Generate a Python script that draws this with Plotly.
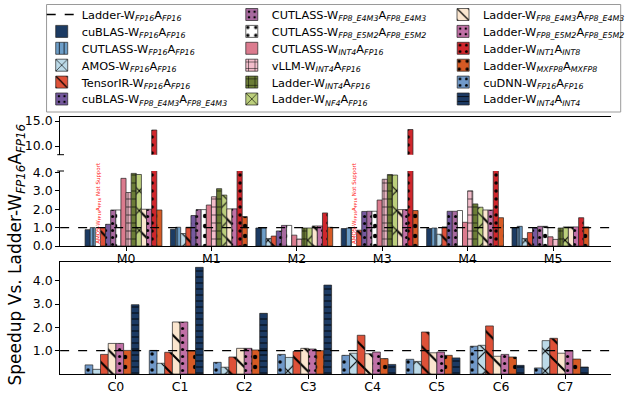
import plotly.graph_objects as go

# ---------------- data ----------------
models = ["M0", "M1", "M2", "M3", "M4", "M5"]
convs = ["C0", "C1", "C2", "C3", "C4", "C5", "C6", "C7"]

cublas_fp16 = [0.89, 0.91, 0.98, 0.95, 0.95, 1.00]
cutlass_fp16 = [1.00, 1.02, 0.98, 0.98, 0.98, 1.07]
amos_m = [None, 0.68, 0.41, None, 0.64, 0.41]
tensorir_m = [1.00, 1.02, 0.54, 0.86, 1.04, 0.73]
cublas_fp8 = [1.18, 1.66, 0.82, 1.88, 1.89, 0.98]
cutlass_e4m3 = [1.96, 1.98, 1.12, 1.89, 1.89, 1.07]
cutlass_e5m2 = [1.96, 1.98, 1.12, 1.89, 1.93, 1.07]
cutlass_int4 = [3.68, 2.23, 0.59, 2.50, 1.29, 0.50]
vllm_int4 = [2.91, 2.68, 0.38, 3.63, 3.00, 0.36]
ladder_int4 = [3.95, 3.12, 0.98, 3.89, 2.29, 0.98]
ladder_nf4 = [3.89, 2.77, 0.98, 3.86, 2.11, 1.04]
ladder_e4m3_m = [2.00, 2.02, 1.09, 1.98, 1.96, 1.04]
ladder_e5m2_m = [2.00, 2.02, 1.09, 1.98, 1.96, 1.04]
ladder_int1 = [13.2, 5.5, 1.80, 13.3, 5.5, 1.54]
ladder_mxfp8_m = [1.96, 1.60, 1.02, 1.93, 1.54, 1.04]

cudnn_c = [0.39, 1.01, 0.50, 0.84, 0.80, 0.63, 1.19, 0.26]
amos_c = [0.20, 0.46, 0.29, 0.71, 0.89, 0.54, 1.23, 1.43]
tensorir_c = [0.84, 0.93, 0.73, 0.97, 1.66, 1.80, 2.06, 1.53]
ladder_e4m3_c = [1.31, 2.23, 1.10, 1.10, 0.87, 0.91, 0.76, 0.89]
ladder_e5m2_c = [1.31, 2.23, 1.10, 1.07, 0.94, 0.94, 0.84, 0.99]
ladder_mxfp8_c = [1.01, 0.99, 1.03, 1.00, 0.66, 0.80, 0.73, 0.64]
ladder_int4int4_c = [2.97, 4.57, 2.60, 3.81, 0.41, 0.69, 0.37, 0.30]

baseline = 1.0


def lab(sys, w, a):
    return f"{sys}-W<sub><i>{w}</i></sub>A<sub><i>{a}</i></sub>"


# style per series: (label, color, pattern shape, pattern size)
S = {
    "cublas16": (lab("cuBLAS", "FP16", "FP16"), "#1c3b63", "", 8),
    "cutlass16": (lab("CUTLASS", "FP16", "FP16"), "#6d9ec8", "|", 6),
    "amos": (lab("AMOS", "FP16", "FP16"), "#bcdae8", "x", 14),
    "tir": (lab("TensorIR", "FP16", "FP16"), "#de5138", "\\", 14),
    "cublas8": (lab("cuBLAS", "FP8_E4M3", "FP8_E4M3"), "#75599e", ".", 7),
    "cut_e4m3": (lab("CUTLASS", "FP8_E4M3", "FP8_E4M3"), "#a86a9f", ".", 7),
    "cut_e5m2": (lab("CUTLASS", "FP8_E5M2", "FP8_E5M2"), "#ffffff", ".", 10),
    "cut_int4": (lab("CUTLASS", "INT4", "FP16"), "#db7b8e", "", 8),
    "vllm": (lab("vLLM", "INT4", "FP16"), "#f3bdcb", "+", 8),
    "l_int4": (lab("Ladder", "INT4", "FP16"), "#6b7c36", "+", 8),
    "l_nf4": (lab("Ladder", "NF4", "FP16"), "#bccf7c", "x", 14),
    "l_e4m3": (lab("Ladder", "FP8_E4M3", "FP8_E4M3"), "#fbe6cf", "\\", 14),
    "l_e5m2": (lab("Ladder", "FP8_E5M2", "FP8_E5M2"), "#c070a6", ".", 7),
    "l_int1": (lab("Ladder", "INT1", "INT8"), "#d0262c", ".", 8),
    "l_mxfp8": (lab("Ladder", "MXFP8", "MXFP8"), "#d75a24", ".", 10),
    "cudnn": (lab("cuDNN", "FP16", "FP16"), "#7099c9", ".", 8),
    "l_int4int4": (lab("Ladder", "INT4", "INT4"), "#1c3a63", "-", 6),
}

top_series = [
    ("cublas16", cublas_fp16), ("cutlass16", cutlass_fp16), ("amos", amos_m),
    ("tir", tensorir_m), ("cublas8", cublas_fp8), ("cut_e4m3", cutlass_e4m3),
    ("cut_e5m2", cutlass_e5m2), ("cut_int4", cutlass_int4), ("vllm", vllm_int4),
    ("l_int4", ladder_int4), ("l_nf4", ladder_nf4), ("l_e4m3", ladder_e4m3_m),
    ("l_e5m2", ladder_e5m2_m), ("l_int1", ladder_int1), ("l_mxfp8", ladder_mxfp8_m),
]
bot_series = [
    ("cudnn", cudnn_c), ("amos", amos_c), ("tir", tensorir_c),
    ("l_e4m3", ladder_e4m3_c), ("l_e5m2", ladder_e5m2_c),
    ("l_mxfp8", ladder_mxfp8_c), ("l_int4int4", ladder_int4int4_c),
]

# legend layout: three columns (column-major)
legend_cols = [
    ["dash", "cublas16", "cutlass16", "amos", "tir", "cublas8"],
    ["cut_e4m3", "cut_e5m2", "cut_int4", "vllm", "l_int4", "l_nf4"],
    ["l_e4m3", "l_e5m2", "l_int1", "l_mxfp8", "cudnn", "l_int4int4"],
]

W, H = 630, 395


def px(x):
    return x / W


def py(y):
    return 1 - y / H


# one single-entry legend per item so rows can be spaced like the reference
COL_X = [43, 239, 457]
ROW_Y0, ROW_DY = 14.5, 16.9
legend_of = {}
legend_layouts = {}
n = 0
for ci, col in enumerate(legend_cols):
    for ri, k in enumerate(col):
        n += 1
        lname = "legend" if n == 1 else f"legend{n}"
        legend_of[k] = lname
        legend_layouts[lname] = dict(
            orientation="v", xanchor="left", yanchor="middle",
            x=px(COL_X[ci]), y=py(ROW_Y0 + ri * ROW_DY),
            bgcolor="rgba(0,0,0,0)", borderwidth=0,
            font=dict(family="DejaVu Sans", size=11.3, color="black"),
            itemwidth=30, tracegroupgap=0)

fig = go.Figure()

# legend-only entry for baseline dashed line
fig.add_trace(go.Scatter(
    x=[None], y=[None], mode="lines", name=lab("Ladder", "FP16", "FP16"),
    line=dict(color="black", dash="dash", width=1.5),
    legend=legend_of["dash"], showlegend=True))

shown = set()


def bar(key, xs, ys, slot, nslots, w, xa, ya):
    name, color, shape, size = S[key]
    show = key not in shown and xa in ("x", "x3")
    if show:
        shown.add(key)
    fig.add_trace(go.Bar(
        x=xs, y=ys, name=name, xaxis=xa, yaxis=ya,
        offset=(slot - nslots / 2) * w, width=w,
        marker=dict(color=color, line=dict(color="#222222", width=0.7),
                    pattern=dict(shape=shape, fgcolor="black", bgcolor=color,
                                 size=size, solidity=0.15)),
        showlegend=show, legend=legend_of[key],
        hoverinfo="skip"))


W_TOP, W_BOT = 0.06, 0.12
xi_top = list(range(len(models)))
xi_bot = list(range(len(convs)))

for i, (k, vals) in enumerate(top_series):
    bar(k, xi_top, vals, i, 16, W_TOP, "x", "y")
for i, (k, vals) in enumerate(top_series):
    bar(k, xi_top, vals, i, 16, W_TOP, "x2", "y2")
for i, (k, vals) in enumerate(bot_series):
    bar(k, xi_bot, vals, i, 8, W_BOT, "x3", "y3")

# "Not Support" notes where AMOS has no value
amos_slot = [k for k, _ in top_series].index("amos")
for gi, v in enumerate(amos_m):
    if v is None:
        fig.add_annotation(
            x=gi + (amos_slot - 8 + 0.5) * W_TOP, y=0, xref="x", yref="y",
            text="AMOS-W<sub>FP16</sub>A<sub>FP16</sub> Not Support",
            textangle=-90, showarrow=False, yanchor="bottom", xanchor="center",
            font=dict(size=5.5, color="#ff2020", family="DejaVu Sans"))

# baseline dashed lines
for ya, xd in (("y", "x"), ("y3", "x3")):
    fig.add_shape(type="line", xref=f"{xd} domain", yref=ya, x0=0, x1=1,
                  y0=baseline, y1=baseline,
                  line=dict(color="black", dash="dash", width=1.3), layer="above")

# broken-axis marks
for yy in (154.7, 171):
    fig.add_shape(type="line", xref="paper", yref="paper",
                  x0=px(59), x1=px(66), y0=py(yy), y1=py(yy),
                  line=dict(color="black", width=1))

# legend frame
fig.add_shape(type="rect", xref="paper", yref="paper",
              x0=px(48), x1=px(640), y0=py(112), y1=py(4.5),
              line=dict(color="#9a9a9a", width=1), fillcolor="rgba(0,0,0,0)")

# y title
fig.add_annotation(
    x=px(17), y=py(254), xref="paper", yref="paper",
    text="Speedup Vs. " + lab("Ladder", "FP16", "FP16"),
    textangle=-90, showarrow=False, xanchor="center", yanchor="middle",
    font=dict(size=17, color="black", family="DejaVu Sans"))

FONT = dict(family="DejaVu Sans", size=12.5, color="black")
axis_common = dict(showgrid=False, zeroline=False, showline=True,
                   linecolor="black", linewidth=1, ticks="outside",
                   ticklen=4, tickcolor="black", automargin=False,
                   tickfont=FONT)

x_dom = [px(62), 1.0]
fig.update_layout(
    width=W, height=H, template="none",
    plot_bgcolor="white", paper_bgcolor="white",
    margin=dict(l=0, r=0, t=0, b=0),
    barmode="overlay", font=FONT,
    xaxis=dict(**axis_common, domain=x_dom, anchor="y", ticklabelstandoff=-3,
               range=[-0.772, 5.679], tickvals=xi_top, ticktext=models),
    xaxis2=dict(**{**axis_common, "ticks": ""}, domain=x_dom, anchor="y2",
                matches="x", side="top", showticklabels=False),
    yaxis=dict(**axis_common, domain=[py(246), py(171)], anchor="x",
               range=[0, 4.08], tickvals=[0, 1, 2, 3, 4], tickformat=".1f"),
    yaxis2=dict(**axis_common, domain=[py(154.7), py(117)], anchor="x2",
                range=[8.26, 15.8], tickvals=[10, 15], tickformat=".1f"),
    xaxis3=dict(**axis_common, domain=x_dom, anchor="y3", mirror=True,
                ticklabelstandoff=-3,
                range=[-0.869, 7.713], tickvals=xi_bot, ticktext=convs),
    yaxis3=dict(**axis_common, domain=[py(374), py(262)], anchor="x3",
                range=[0, 4.8], tickvals=[1, 2, 3, 4], tickformat=".1f"),
    **legend_layouts,
)

fig.write_html("out.html",
               config={"displayModeBar": False},
               post_script="document.body.style.margin='0';"
                           "document.body.style.padding='0';"
                           "document.documentElement.style.overflow='hidden';")
